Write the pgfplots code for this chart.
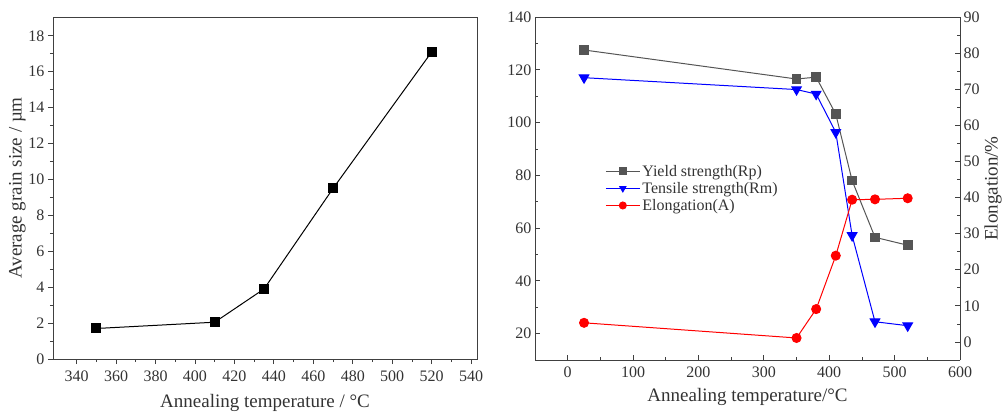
\documentclass[border=0pt]{standalone}
\usepackage{pgfplots}
\pgfplotsset{compat=1.18}
\usepackage{fontspec}
\setmainfont{Liberation Serif}
\definecolor{ygray}{HTML}{555555}
\begin{document}
\begin{tikzpicture}
\useasboundingbox (0pt,0pt) rectangle (1003pt,-412pt);
% ---------- left panel ----------
\begin{axis}[
  at={(53pt,-359pt)}, anchor=south west,
  scale only axis, width=424pt, height=342pt,
  xmin=328, xmax=543, ymin=0, ymax=19.05,
  xtick={340,360,...,540}, ytick={0,2,...,18},
  minor x tick num=1, minor y tick num=1,
  tick pos=left, tick align=outside,
  major tick length=5pt, minor tick length=3pt,
  axis line style={line width=0.9pt, draw=black!75},
  every tick/.style={line width=0.8pt, black!75},
  tick label style={font=\fontsize{16}{18}\selectfont, text=black!80},
  /pgf/number format/assume math mode=true,
  xticklabel style={yshift=-3pt},
  xlabel={Annealing temperature / °C},
  ylabel={Average grain size / µm},
  label style={font=\fontsize{19}{21}\selectfont, text=black!80},
  xlabel style={yshift=-6pt},
  ylabel style={yshift=-4pt},
]
\addplot[black, line width=1pt, mark=square*, mark size=4.5pt, mark options={solid}]
  coordinates {(350,1.7) (410,2.05) (435,3.9) (470,9.5) (520,17.1)};
\end{axis}
% ---------- right panel ----------
\begin{axis}[
  at={(535pt,-360pt)}, anchor=south west,
  scale only axis, width=425pt, height=343pt,
  xmin=-50, xmax=600, ymin=10, ymax=140,
  xtick={0,100,...,600}, ytick={20,40,...,140},
  minor x tick num=1, minor y tick num=1,
  axis y line*=left, axis x line*=bottom,
  tick align=inside,
  major tick length=5pt, minor tick length=3pt,
  axis line style={line width=0.9pt, draw=black!75, -},
  every tick/.style={line width=0.8pt, black!75},
  tick label style={font=\fontsize{16}{18}\selectfont, text=black!80},
  /pgf/number format/assume math mode=true,
  xticklabel style={yshift=-3pt},
  xlabel={Annealing temperature/°C},
  label style={font=\fontsize{19}{21}\selectfont, text=black!80},
  xlabel style={yshift=-4pt},
  legend style={draw=none, fill=none, at={(0.165,0.575)}, anchor=north west,
    font=\fontsize{16}{18}\selectfont, row sep=0.5pt, text=black!80,
    inner sep=0pt},
  legend cell align=left,
  legend image code/.code={
    \draw[#1, mark repeat=2, mark phase=2, mark size=3.5pt] plot coordinates {(0pt,0pt) (17pt,0pt) (34pt,0pt)};
  },
]
\addplot[ygray, line width=1pt, mark=square*, mark size=4.3pt]
  coordinates {(25,127.5) (350,116.5) (380,117.2) (410,103.2) (435,78) (470,56.5) (520,53.5)};
\addlegendentry{Yield strength(Rp)}
\addplot[blue, line width=1pt, mark=triangle*, mark size=5.5pt, mark options={rotate=180}]
  coordinates {(25,117) (350,112.5) (380,110.8) (410,96.3) (435,57.2) (470,24.5) (520,23)};
\addlegendentry{Tensile strength(Rm)}
\addlegendimage{red, line width=1pt, mark=*, mark size=4.5pt}
\addlegendentry{Elongation(A)}
\end{axis}
\begin{axis}[
  at={(535pt,-360pt)}, anchor=south west,
  scale only axis, width=425pt, height=343pt,
  xmin=-50, xmax=600, ymin=-5, ymax=90,
  ytick={0,10,...,90}, minor y tick num=1,
  axis y line*=right, axis x line=none,
  tick align=inside,
  major tick length=5pt, minor tick length=3pt,
  axis line style={line width=0.9pt, draw=black!75, -},
  every tick/.style={line width=0.8pt, black!75},
  tick label style={font=\fontsize{16}{18}\selectfont, text=black!80},
  /pgf/number format/assume math mode=true,
  ylabel={Elongation/\%},
  label style={font=\fontsize{19}{21}\selectfont, text=black!80},
  ylabel style={yshift=2pt},
]
\addplot[red, line width=1pt, mark=*, mark size=4.5pt]
  coordinates {(25,5.3) (350,1.1) (380,9.1) (410,23.9) (435,39.4) (470,39.5) (520,39.8)};
\end{axis}
\draw[line width=0.9pt, black!75] (535pt,-17pt) -- (960pt,-17pt);
\end{tikzpicture}
\end{document}
